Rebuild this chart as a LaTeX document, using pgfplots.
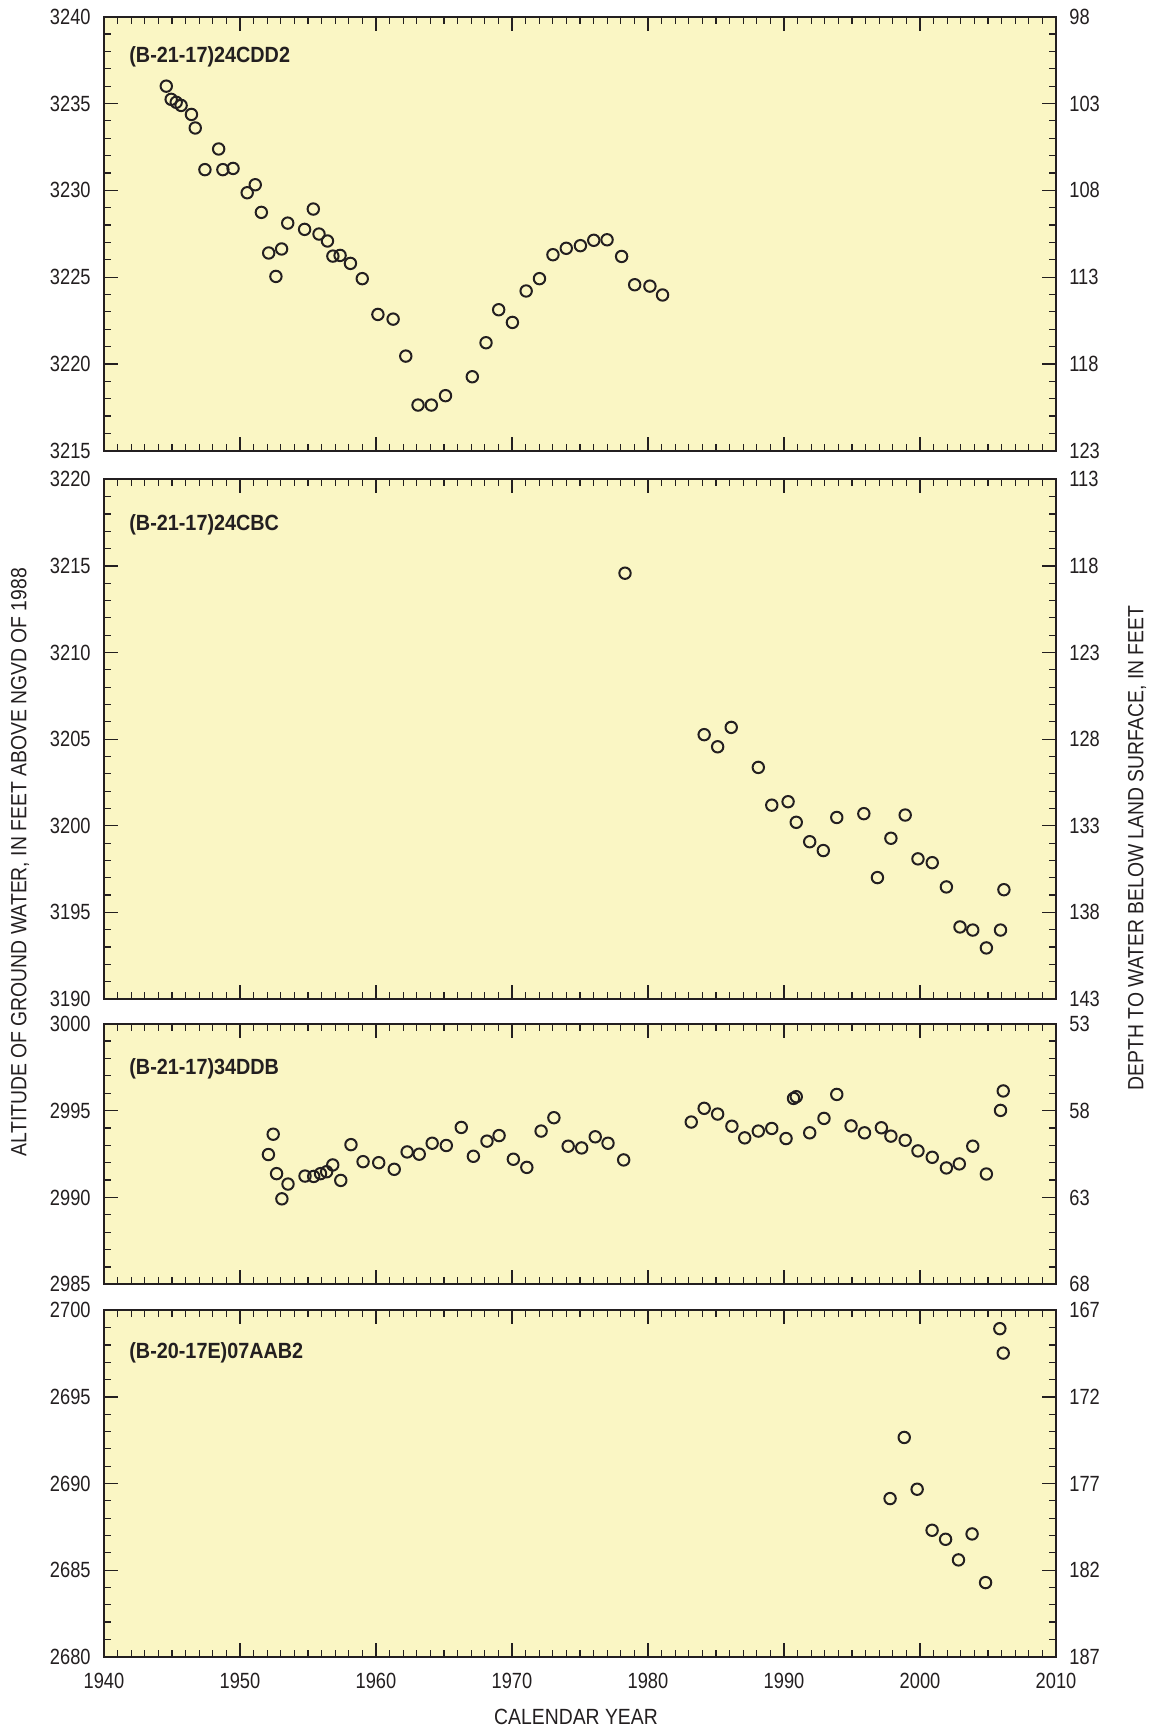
\documentclass[border=0pt]{standalone}
\usepackage{fontspec}
\usepackage{pgfplots}
\pgfplotsset{compat=1.18}
\setmainfont{Liberation Sans}
\newfontfamily\condfont{Liberation Sans}[FakeStretch=0.83]
\newfontfamily\titlefont{Liberation Sans}[FakeStretch=0.88]
\newfontfamily\panelfont{Liberation Sans}[FakeStretch=0.9]
\definecolor{bgy}{RGB}{250,246,196}
\definecolor{txt}{RGB}{35,31,32}
\newcommand{\tickfont}{\condfont\fontsize{11}{13}\selectfont}
\pgfplotsset{
  panel/.style={
    scale only axis, width=476pt, xmin=1940, xmax=2010,
    axis background/.style={fill=bgy},
    xtick={1940,1950,...,2010}, minor x tick num=9,
    minor y tick num=4,
    tick align=inside, xtick pos=both, ytick pos=both, yticklabel pos=left,
    major tick length=7pt, minor tick length=3.5pt,
    every tick/.style={line width=0.6pt, color=txt},
    axis line style={line width=0.9pt, color=txt},
    ticklabel style={font=\tickfont, color=txt},
    yticklabel style={inner xsep=6.5pt},
    xticklabel style={inner ysep=8pt},
    scaled ticks=false,
    /pgf/number format/1000 sep={},
    /pgf/number format/assume math mode=true,
    anchor=north west,
  },
  rightax/.style={
    scale only axis, width=476pt, xmin=1940, xmax=2010,
    y dir=reverse, hide x axis, axis y line*=right,
    axis line style={draw=none},
    major tick length=0pt, minor tick length=0pt,
    ticklabel style={font=\tickfont, color=txt},
    yticklabel style={inner xsep=6.5pt},
    scaled ticks=false,
    /pgf/number format/1000 sep={},
    /pgf/number format/assume math mode=true,
    anchor=north west,
  },
  pts/.style={only marks, mark=o, mark size=2.85pt, color=txt, mark options={line width=1pt}},
}
\newcommand{\plabel}[2]{\node[anchor=base west, inner sep=0pt, font=\panelfont\bfseries\fontsize{11}{13}\selectfont, text=txt, xshift=12.5pt, yshift=-#1] at (rel axis cs:0,1) {#2};}
\begin{document}
\begin{tikzpicture}
\path[use as bounding box] (0,0) rectangle (575.5pt,-865pt);
% ---------- Panel 1
\begin{axis}[panel, at={(52pt,-8.35pt)}, height=217pt, ymin=3215, ymax=3240,
  ytick={3215,3220,...,3240}, xticklabels={}]
\addplot[pts] coordinates {
(1944.58,3236.00) (1944.94,3235.24) (1945.31,3235.07) (1945.67,3234.89)
(1946.43,3234.37) (1946.71,3233.59) (1948.43,3232.38) (1947.42,3231.19)
(1948.74,3231.19) (1949.49,3231.26) (1950.53,3229.86) (1951.12,3230.32)
(1951.57,3228.73) (1952.11,3226.39) (1952.64,3225.04) (1953.06,3226.62)
(1953.51,3228.11) (1954.75,3227.75) (1955.39,3228.92) (1955.81,3227.48)
(1956.43,3227.08) (1956.83,3226.21) (1957.36,3226.25) (1958.12,3225.79)
(1958.99,3224.91) (1960.14,3222.85) (1961.26,3222.58) (1962.19,3220.45)
(1963.09,3217.63) (1964.07,3217.63) (1965.11,3218.17) (1967.08,3219.26)
(1968.09,3221.22) (1969.02,3223.12) (1970.03,3222.39) (1971.04,3224.20)
(1972.02,3224.91) (1973.01,3226.29) (1973.99,3226.66) (1975.03,3226.81)
(1976.01,3227.12) (1976.99,3227.15) (1978.06,3226.19) (1979.02,3224.56)
(1980.14,3224.48) (1981.07,3223.97)};
\plabel{23pt}{(B-21-17)24CDD2}
\end{axis}
\begin{axis}[rightax, at={(52pt,-8.35pt)}, height=217pt, ymin=98, ymax=123,
  ytick={98,103,...,123}]
\end{axis}
% ---------- Panel 2
\begin{axis}[panel, at={(52pt,-239.65pt)}, height=259.85pt, ymin=3190, ymax=3220,
  ytick={3190,3195,...,3220}, xticklabels={}]
\addplot[pts] coordinates {
(1978.31,3214.58) (1984.13,3205.26) (1985.12,3204.56) (1986.12,3205.68)
(1988.11,3203.37) (1989.10,3201.19) (1990.30,3201.39) (1990.90,3200.20)
(1991.89,3199.08) (1992.89,3198.57) (1993.88,3200.48) (1995.87,3200.70)
(1996.87,3197.01) (1997.86,3199.28) (1998.91,3200.62) (1999.85,3198.09)
(2000.90,3197.87) (2001.94,3196.47) (2002.94,3194.16) (2003.88,3193.98)
(2004.88,3192.95) (2005.92,3193.98) (2006.17,3196.31)};
\plabel{25.5pt}{(B-21-17)24CBC}
\end{axis}
\begin{axis}[rightax, at={(52pt,-239.65pt)}, height=259.85pt, ymin=113, ymax=143,
  ytick={113,118,...,143}]
\end{axis}
% ---------- Panel 3
\begin{axis}[panel, at={(52pt,-511.85pt)}, height=130.3pt, ymin=2985, ymax=3000,
  ytick={2985,2990,...,3000}, xticklabels={}]
\addplot[pts] coordinates {
(1952.09,2992.47) (1952.44,2993.64) (1952.69,2991.37) (1953.08,2989.92)
(1953.53,2990.77) (1954.78,2991.23) (1955.42,2991.21) (1955.92,2991.37)
(1956.37,2991.48) (1956.82,2991.87) (1957.41,2990.98) (1958.16,2993.04)
(1959.05,2992.06) (1960.20,2992.00) (1961.34,2991.62) (1962.29,2992.62)
(1963.18,2992.49) (1964.13,2993.12) (1965.17,2992.99) (1966.27,2994.03)
(1967.16,2992.37) (1968.16,2993.24) (1969.05,2993.56) (1970.10,2992.20)
(1971.09,2991.73) (1972.14,2993.82) (1973.08,2994.59) (1974.13,2992.95)
(1975.12,2992.85) (1976.12,2993.49) (1977.06,2993.12) (1978.21,2992.16)
(1983.18,2994.34) (1984.13,2995.13) (1985.12,2994.80) (1986.17,2994.10)
(1987.11,2993.43) (1988.11,2993.82) (1989.10,2993.97) (1990.15,2993.39)
(1990.70,2995.70) (1990.90,2995.80) (1991.89,2993.72) (1992.94,2994.55)
(1993.88,2995.93) (1994.93,2994.12) (1995.92,2993.72) (1997.16,2994.01)
(1997.86,2993.53) (1998.91,2993.29) (1999.85,2992.68) (2000.90,2992.31)
(2001.94,2991.70) (2002.89,2991.93) (2003.88,2992.95) (2004.88,2991.35)
(2005.92,2995.01) (2006.12,2996.13)};
\plabel{25.5pt}{(B-21-17)34DDB}
\end{axis}
\begin{axis}[rightax, at={(52pt,-511.85pt)}, height=130.3pt, ymin=53, ymax=68,
  ytick={53,58,...,68}]
\end{axis}
% ---------- Panel 4
\begin{axis}[panel, at={(52pt,-655.15pt)}, height=173.2pt, ymin=2680, ymax=2700,
  ytick={2680,2685,...,2700}]
\addplot[pts] coordinates {
(1997.80,2689.13) (1998.84,2692.66) (1999.79,2689.67) (2000.89,2687.30)
(2001.88,2686.78) (2002.83,2685.59) (2003.83,2687.09) (2004.82,2684.28)
(2005.87,2698.94) (2006.12,2697.53)};
\plabel{24pt}{(B-20-17E)07AAB2}
\end{axis}
\begin{axis}[rightax, at={(52pt,-655.15pt)}, height=173.2pt, ymin=167, ymax=187,
  ytick={167,172,...,187}]
\end{axis}
% ---------- Titles
\node[rotate=90, text=txt, font=\titlefont\fontsize{11}{13}\selectfont] at (10pt,-431pt)
  {ALTITUDE OF GROUND WATER, IN FEET ABOVE NGVD OF 1988};
\node[rotate=90, text=txt, font=\titlefont\fontsize{11}{13}\selectfont] at (568.5pt,-424pt)
  {DEPTH TO WATER BELOW LAND SURFACE, IN FEET};
\node[text=txt, font=\titlefont\fontsize{11}{13}\selectfont] at (288pt,-858.5pt)
  {CALENDAR YEAR};
\end{tikzpicture}
\end{document}
